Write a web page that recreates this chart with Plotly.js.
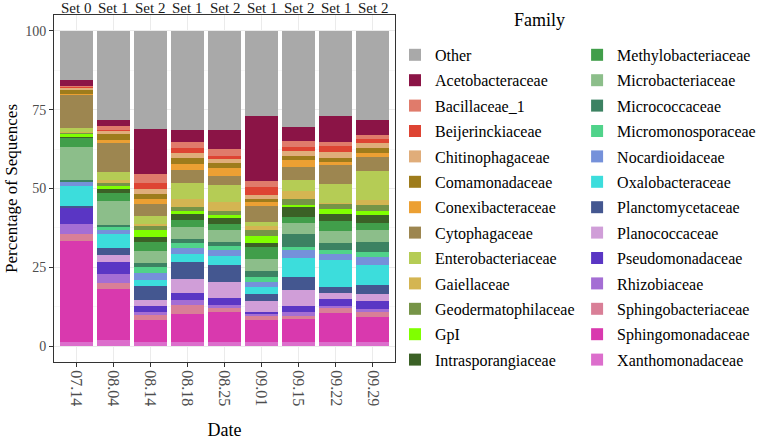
<!DOCTYPE html>
<html>
<head>
<meta charset="utf-8">
<script src="https://cdn.plot.ly/plotly-3.0.1.min.js"></script>
<style>html,body{margin:0;padding:0;background:#fff;}#chart{width:765px;height:441px;}</style>
</head>
<body>
<div id="chart"></div>
<script>
// ---- data ----
const dates = ['07.14','08.04','08.14','08.18','08.25','09.01','09.15','09.22','09.29'];
const sets = ['Set 0','Set 1','Set 2','Set 1','Set 2','Set 1','Set 2','Set 1','Set 2'];

// legend order (top of stack first)
const families = ['Other','Acetobacteraceae','Bacillaceae_1','Beijerinckiaceae','Chitinophagaceae',
  'Comamonadaceae','Conexibacteraceae','Cytophagaceae','Enterobacteriaceae','Gaiellaceae',
  'Geodermatophilaceae','GpI','Intrasporangiaceae','Methylobacteriaceae','Microbacteriaceae',
  'Micrococcaceae','Micromonosporaceae','Nocardioidaceae','Oxalobacteraceae','Planctomycetaceae',
  'Planococcaceae','Pseudomonadaceae','Rhizobiaceae','Sphingobacteriaceae','Sphingomonadaceae',
  'Xanthomonadaceae'];

const colors = ['#A9A9A9','#8B1446','#E07B6B','#DE4433','#E0AD7A',
  '#9E7C1C','#ECA033','#9D8650','#B5CC55','#D4B552',
  '#769447','#80FF00','#3B6126','#419E4A','#8CBE8A',
  '#3C8262','#50D38A','#7591DA','#3CDDDC','#445790',
  '#D09ED8','#5A36C4','#A46ED4','#D97F97','#D939AE',
  '#DC6ECC'];

const Other               = [15.7, 28.3, 31.2, 31.3, 31.3, 27.0, 30.5, 27.0, 28.4];
const Acetobacteraceae    = [ 1.9,  2.0, 14.3,  4.0,  6.3, 20.6,  4.4,  8.2,  4.5];
const Bacillaceae_1       = [ 0.3,  1.0,  2.9,  2.0,  2.1,  1.9,  1.9,  1.3,  1.5];
const Beijerinckiaceae    = [ 0.3,  0.6,  1.8,  1.4,  1.1,  2.5,  1.3,  1.9,  1.2];
const Chitinophagaceae    = [ 0.6,  0.8,  1.7,  1.6,  1.1,  1.4,  1.6,  1.9,  1.6];
const Comamonadaceae      = [ 1.3,  1.8,  1.4,  1.8,  1.6,  0.9,  1.4,  1.3,  1.4];
const Conexibacteraceae   = [ 0.2,  1.1,  1.5,  2.1,  2.4,  1.3,  2.1,  0.8,  1.4];
const Cytophagaceae       = [10.5,  9.3,  3.8,  4.2,  3.1,  4.9,  4.0,  6.2,  4.6];
const Enterobacteriaceae  = [ 1.4,  2.4,  2.5,  4.9,  5.3,  1.5,  3.6,  5.9,  9.2];
const Gaiellaceae         = [ 0.2,  1.1,  0.8,  2.5,  2.7,  1.3,  2.4,  0.4,  1.4];
const Geodermatophilaceae = [ 0.4,  0.8,  1.3,  1.3,  1.3,  1.9,  1.9,  1.7,  1.8];
const GpI                 = [ 0.8,  1.1,  2.3,  1.1,  1.1,  2.0,  0.9,  1.5,  1.3];
const Intrasporangiaceae  = [ 0.3,  1.0,  1.3,  1.7,  1.7,  1.4,  3.1,  2.3,  2.6];
const Methylobacteriaceae = [ 2.9,  2.6,  3.0,  2.3,  1.9,  3.7,  1.8,  3.2,  2.4];
const Microbacteriaceae   = [10.4,  7.6,  3.8,  3.7,  3.8,  3.7,  3.5,  3.6,  3.7];
const Micrococcaceae      = [ 0.6,  0.8,  1.4,  1.4,  1.5,  2.1,  4.2,  2.3,  3.2];
const Micromonosporaceae  = [ 0.2,  0.7,  1.7,  1.5,  1.2,  1.6,  1.0,  1.3,  1.5];
const Nocardioidaceae     = [ 1.3,  1.5,  2.2,  2.0,  1.9,  1.4,  2.4,  2.0,  2.4];
const Oxalobacteraceae    = [ 6.2,  4.3,  2.1,  2.5,  3.0,  2.3,  6.1,  8.5,  6.4];
const Planctomycetaceae   = [ 0.6,  2.4,  4.3,  5.3,  5.3,  2.4,  4.1,  1.8,  2.9];
const Planococcaceae      = [ 0.0,  2.2,  2.0,  4.5,  5.0,  3.4,  5.1,  1.9,  2.4];
const Pseudomonadaceae    = [ 5.2,  3.6,  1.8,  2.4,  2.2,  0.6,  1.9,  2.1,  2.4];
const Rhizobiaceae        = [ 3.0,  3.0,  1.1,  1.4,  1.1,  0.7,  1.1,  0.8,  0.8];
const Sphingobacteriaceae = [ 2.3,  1.9,  1.6,  2.8,  1.0,  1.3,  1.0,  1.5,  1.7];
const Sphingomonadaceae   = [32.1, 16.1,  6.9,  9.0,  9.7,  6.9,  7.4,  9.3,  8.0];
const Xanthomonadaceae    = [ 1.3,  2.0,  1.3,  1.3,  1.3,  1.3,  1.3,  1.3,  1.3];

const values = [Other,Acetobacteraceae,Bacillaceae_1,Beijerinckiaceae,Chitinophagaceae,
  Comamonadaceae,Conexibacteraceae,Cytophagaceae,Enterobacteriaceae,Gaiellaceae,
  Geodermatophilaceae,GpI,Intrasporangiaceae,Methylobacteriaceae,Microbacteriaceae,
  Micrococcaceae,Micromonosporaceae,Nocardioidaceae,Oxalobacteraceae,Planctomycetaceae,
  Planococcaceae,Pseudomonadaceae,Rhizobiaceae,Sphingobacteriaceae,Sphingomonadaceae,
  Xanthomonadaceae];

const yTicks = [0, 25, 50, 75, 100];

// ---- traces (bottom of stack first) ----
const serif = 'Liberation Serif, Times New Roman, serif';
const traces = [];
for (let i = families.length - 1; i >= 0; i--) {
  traces.push({
    type: 'bar',
    name: families[i],
    x: dates,
    y: values[i],
    marker: {color: colors[i], line: {width: 0}},
    legend: i < 13 ? 'legend' : 'legend2',
    legendgroup: 'g' + i,
    legendrank: i,
    hoverinfo: 'name+y'
  });
}

// set labels on top, positioned by category index on the x axis
const annotations = sets.map((s, i) => ({
  x: i, xref: 'x', y: 1.02, yref: 'paper', text: s, showarrow: false,
  xanchor: 'center', yanchor: 'middle', font: {family: serif, size: 15, color: '#1a1a1a'}
}));
annotations.push({
  x: 1.425, xref: 'paper', y: 0.986, yref: 'paper', text: 'Family', showarrow: false,
  xanchor: 'center', yanchor: 'middle', font: {family: serif, size: 18, color: '#000'}
});

const legendCommon = {
  font: {family: serif, size: 16, color: '#000'},
  tracegroupgap: 1.6,
  bgcolor: 'rgba(0,0,0,0)',
  yanchor: 'top',
  xanchor: 'left',
  itemclick: false
};

const layout = {
  width: 765, height: 441,
  margin: {l: 54, r: 370, t: 15, b: 79, autoexpand: false},
  paper_bgcolor: '#fff', plot_bgcolor: '#fff',
  barmode: 'stack',
  bargap: 0.1,
  font: {family: serif, color: '#000'},
  xaxis: {
    type: 'category',
    range: [-0.6, 8.6],
    showline: true, mirror: true, linecolor: '#333', linewidth: 1,
    showgrid: true, gridcolor: '#EBEBEB', gridwidth: 1,
    ticks: 'outside', ticklen: 4, tickcolor: '#333',
    tickangle: 90,
    tickfont: {family: serif, size: 16, color: '#4d4d4d'},
    title: {text: 'Date', font: {family: serif, size: 18, color: '#000'}, standoff: 18},
    zeroline: false
  },
  yaxis: {
    range: [-5, 105],
    tickvals: yTicks,
    showline: true, mirror: true, linecolor: '#333', linewidth: 1,
    showgrid: true, gridcolor: '#EBEBEB', gridwidth: 1,
    minor: {dtick: 12.5, tick0: 0, showgrid: true, gridcolor: '#F2F2F2', gridwidth: 0.6, ticks: ''},
    ticks: 'outside', ticklen: 4, tickcolor: '#333',
    tickfont: {family: serif, size: 14, color: '#4d4d4d'},
    title: {text: 'Percentage of Sequences', font: {family: serif, size: 17, color: '#000'}, standoff: 3},
    zeroline: false
  },
  legend: Object.assign({}, legendCommon, {x: 1.0, y: 0.934}),
  legend2: Object.assign({}, legendCommon, {x: 1.534, y: 0.934}),
  annotations: annotations,
  showlegend: true
};

Plotly.newPlot('chart', traces, layout, {displayModeBar: false, staticPlot: true});
</script>
</body>
</html>
